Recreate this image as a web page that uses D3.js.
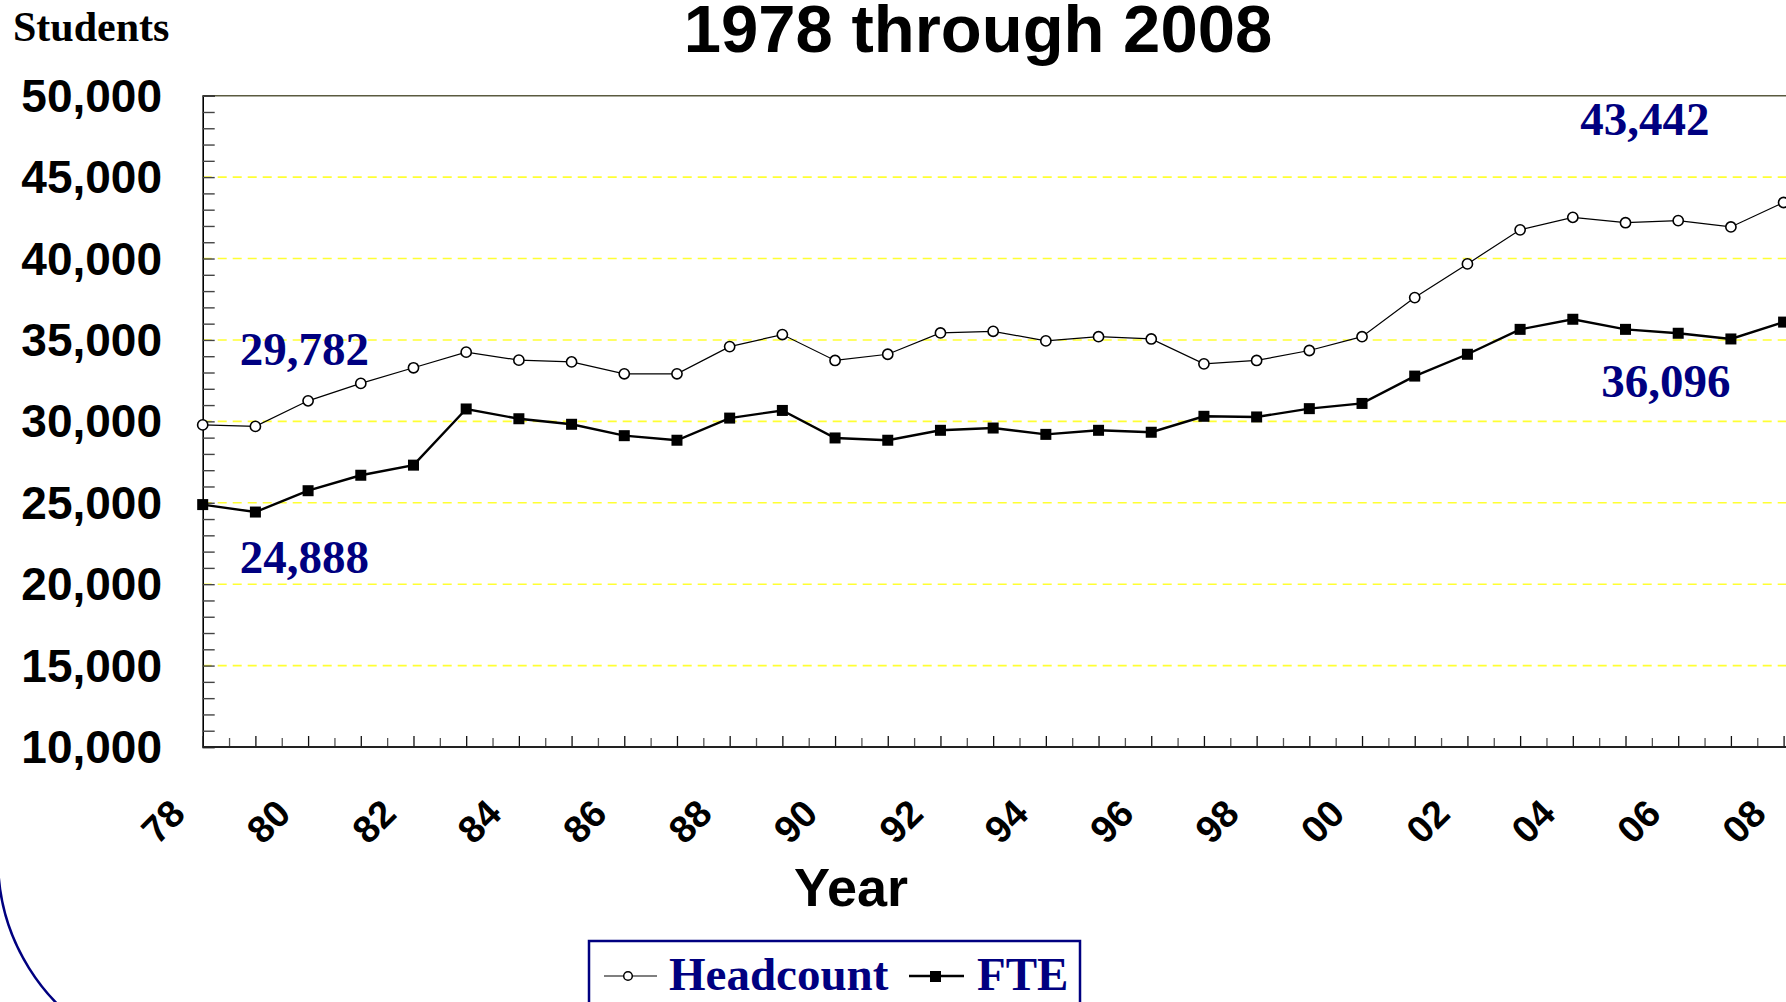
<!DOCTYPE html>
<html>
<head>
<meta charset="utf-8">
<script src="https://cdn.jsdelivr.net/npm/d3@7"></script>
<style>
	body { margin: 0; background: #fff; overflow: hidden; }
	svg { display: block; }
</style>
</head>
<body>
<div id="chart"></div>
<script>
// Enrollment data
var years = [1978, 1979, 1980, 1981, 1982, 1983, 1984, 1985, 1986, 1987, 1988, 1989, 1990, 1991, 1992, 1993,
	1994, 1995, 1996, 1997, 1998, 1999, 2000, 2001, 2002, 2003, 2004, 2005, 2006, 2007, 2008];
var headcount = [29782, 29690, 31260, 32330, 33290, 34250, 33760, 33650, 32920, 32920, 34590, 35330, 33740, 34120, 35430, 35530,
	34940, 35200, 35060, 33530, 33740, 34350, 35200, 37600, 39670, 41760, 42530, 42200, 42330, 41940, 43442];
var fte = [24888, 24430, 25740, 26690, 27310, 30760, 30160, 29820, 29120, 28840, 30200, 30670, 28980, 28840, 29450, 29590,
	29200, 29450, 29330, 30310, 30270, 30780, 31100, 32780, 34120, 35650, 36270, 35650, 35410, 35060, 36096];

var xTickYears = [1978, 1980, 1982, 1984, 1986, 1988, 1990, 1992, 1994, 1996, 1998, 2000, 2002, 2004, 2006, 2008];
var xTickLabels = ["78", "80", "82", "84", "86", "88", "90", "92", "94", "96", "98", "00", "02", "04", "06", "08"];
var yLabelValues = [10000, 15000, 20000, 25000, 30000, 35000, 40000, 45000, 50000];
var gridValues = [15000, 20000, 25000, 30000, 35000, 40000, 45000];
var seriesNames = ["Headcount", "FTE"];
var titleText = "1978 through 2008";

var W = 1786, H = 1002;
var sans = "'Liberation Sans', Arial, sans-serif";
var serif = "'Liberation Serif', 'Times New Roman', serif";
var navy = "#000080";

var svg = d3.select("#chart").append("svg")
	.attr("width", W)
	.attr("height", H);

// scales (plot runs off the right edge like the original)
var x = d3.scaleLinear().domain([1978, 2008]).range([202.7, 1783.6]);
var y = d3.scaleLinear().domain([10000, 50000]).range([747, 95.7]);
var plotRight = 1800;

// decorative arc bottom left (only the left piece of a big circle shows)
var arcPath = d3.path();
arcPath.arc(202, 860, 204, 178 * Math.PI / 180, 118 * Math.PI / 180, true);
svg.append("path")
	.attr("d", arcPath.toString())
	.attr("fill", "none").attr("stroke", navy).attr("stroke-width", 2.5);

// title + y axis caption
svg.append("text")
	.attr("x", 978).attr("y", 52)
	.attr("text-anchor", "middle")
	.attr("font-family", sans).attr("font-weight", "bold").attr("font-size", 67)
	.text(titleText);

svg.append("text")
	.attr("x", 13).attr("y", 41)
	.attr("font-family", serif).attr("font-weight", "bold").attr("font-size", 42)
	.text("Students");

// yellow dashed grid
svg.append("g").selectAll("line")
	.data(gridValues)
	.enter().append("line")
	.attr("x1", x(1978)).attr("x2", plotRight)
	.attr("y1", function (d) { return y(d); })
	.attr("y2", function (d) { return y(d); })
	.attr("stroke", "#ffff33").attr("stroke-width", 1.6)
	.attr("stroke-dasharray", "9,6");

// top border of plot
svg.append("line")
	.attr("x1", x(1978)).attr("x2", plotRight)
	.attr("y1", y(50000)).attr("y2", y(50000))
	.attr("stroke", "#5a5a40").attr("stroke-width", 1.6);

// y axis with inside ticks every 1000
var yTicks = d3.range(10000, 50001, 1000);
var yAxis = d3.axisRight(y).tickValues(yTicks).tickSize(12).tickFormat("");
svg.append("g")
	.attr("transform", "translate(" + x(1978) + ",0)")
	.call(yAxis)
	.call(function (g) {
		g.select(".domain").attr("stroke", "#000").attr("stroke-width", 1.6);
		g.selectAll(".tick line").attr("stroke", "#444").attr("stroke-width", 1.4);
	});

svg.append("g").selectAll("text")
	.data(yLabelValues)
	.enter().append("text")
	.attr("x", 162)
	.attr("y", function (d) { return y(d); })
	.attr("dy", "0.35em")
	.attr("text-anchor", "end")
	.attr("font-family", sans).attr("font-weight", "bold").attr("font-size", 46)
	.text(function (d) { return d3.format(",")(d); });

// x axis, major ticks per year, minor ticks half way
var majorTicks = years;
var minorTicks = years.slice(0, -1).map(function (d) { return d + 0.5; });
var xAxisMajor = d3.axisTop(x).tickValues(majorTicks).tickSize(11).tickFormat("").tickSizeOuter(0);
var xAxisMinor = d3.axisTop(x).tickValues(minorTicks).tickSize(9).tickFormat("").tickSizeOuter(0);

svg.append("g")
	.attr("transform", "translate(0," + y(10000) + ")")
	.call(xAxisMinor)
	.call(function (g) {
		g.select(".domain").remove();
		g.selectAll(".tick line").attr("stroke", "#555").attr("stroke-width", 1.3);
	});
svg.append("g")
	.attr("transform", "translate(0," + y(10000) + ")")
	.call(xAxisMajor)
	.call(function (g) {
		g.select(".domain").remove();
		g.selectAll(".tick line").attr("stroke", "#111").attr("stroke-width", 1.3);
	});
svg.append("line")
	.attr("x1", x(1978)).attr("x2", plotRight)
	.attr("y1", y(10000)).attr("y2", y(10000))
	.attr("stroke", "#222").attr("stroke-width", 2);

svg.append("g").selectAll("text")
	.data(xTickYears)
	.enter().append("text")
	.attr("transform", function (d) { return "translate(" + (x(d) - 40) + ",821) rotate(-45)"; })
	.attr("dy", "0.36em")
	.attr("text-anchor", "middle")
	.attr("font-family", sans).attr("font-weight", "bold").attr("font-size", 38)
	.text(function (d, i) { return xTickLabels[i]; });

svg.append("text")
	.attr("x", 851).attr("y", 906)
	.attr("text-anchor", "middle")
	.attr("font-family", sans).attr("font-weight", "bold").attr("font-size", 54)
	.text("Year");

// series lines
var line = d3.line()
	.x(function (d, i) { return x(years[i]); })
	.y(function (d) { return y(d); });

svg.append("path")
	.datum(headcount)
	.attr("d", line)
	.attr("fill", "none").attr("stroke", "#000").attr("stroke-width", 1.2);

svg.append("path")
	.datum(fte)
	.attr("d", line)
	.attr("fill", "none").attr("stroke", "#000").attr("stroke-width", 2.4);

svg.append("g").selectAll("circle")
	.data(headcount)
	.enter().append("circle")
	.attr("cx", function (d, i) { return x(years[i]); })
	.attr("cy", function (d) { return y(d); })
	.attr("r", 5.1)
	.attr("fill", "#fff").attr("stroke", "#000").attr("stroke-width", 1.6);

svg.append("g").selectAll("rect")
	.data(fte)
	.enter().append("rect")
	.attr("x", function (d, i) { return x(years[i]) - 5.5; })
	.attr("y", function (d) { return y(d) - 5.5; })
	.attr("width", 11).attr("height", 11)
	.attr("fill", "#000");

// value callouts at start and end
var last = years.length - 1;
function callout(txt, px, py, anchor) {
	svg.append("text")
		.attr("x", px).attr("y", py)
		.attr("text-anchor", anchor)
		.attr("fill", navy)
		.attr("font-family", serif).attr("font-weight", "bold").attr("font-size", 47)
		.text(txt);
}
callout(d3.format(",")(headcount[0]), x(years[0]) + 37, y(headcount[0]) - 60, "start");
callout(d3.format(",")(fte[0]), x(years[0]) + 37, y(fte[0]) + 68, "start");
callout(d3.format(",")(headcount[last]), x(years[last]) - 74, y(headcount[last]) - 67, "end");
callout(d3.format(",")(fte[last]), x(years[last]) - 53, y(fte[last]) + 75, "end");

// legend
var legend = svg.append("g");
legend.append("rect")
	.attr("x", 589).attr("y", 941).attr("width", 491).attr("height", 90)
	.attr("fill", "#fff").attr("stroke", navy).attr("stroke-width", 2.5);

legend.append("line")
	.attr("x1", 604).attr("x2", 657).attr("y1", 976).attr("y2", 976)
	.attr("stroke", "#555").attr("stroke-width", 1.5);
legend.append("circle")
	.attr("cx", 628).attr("cy", 976).attr("r", 4.3)
	.attr("fill", "#fff").attr("stroke", "#000").attr("stroke-width", 1.5);
legend.append("text")
	.attr("x", 669).attr("y", 990)
	.attr("fill", navy)
	.attr("font-family", serif).attr("font-weight", "bold").attr("font-size", 47)
	.text(seriesNames[0]);

legend.append("line")
	.attr("x1", 909).attr("x2", 964).attr("y1", 976).attr("y2", 976)
	.attr("stroke", "#000").attr("stroke-width", 2.4);
legend.append("rect")
	.attr("x", 930).attr("y", 971).attr("width", 11).attr("height", 11)
	.attr("fill", "#000");
legend.append("text")
	.attr("x", 977).attr("y", 990)
	.attr("fill", navy)
	.attr("font-family", serif).attr("font-weight", "bold").attr("font-size", 47)
	.text(seriesNames[1]);
</script>
</body>
</html>
